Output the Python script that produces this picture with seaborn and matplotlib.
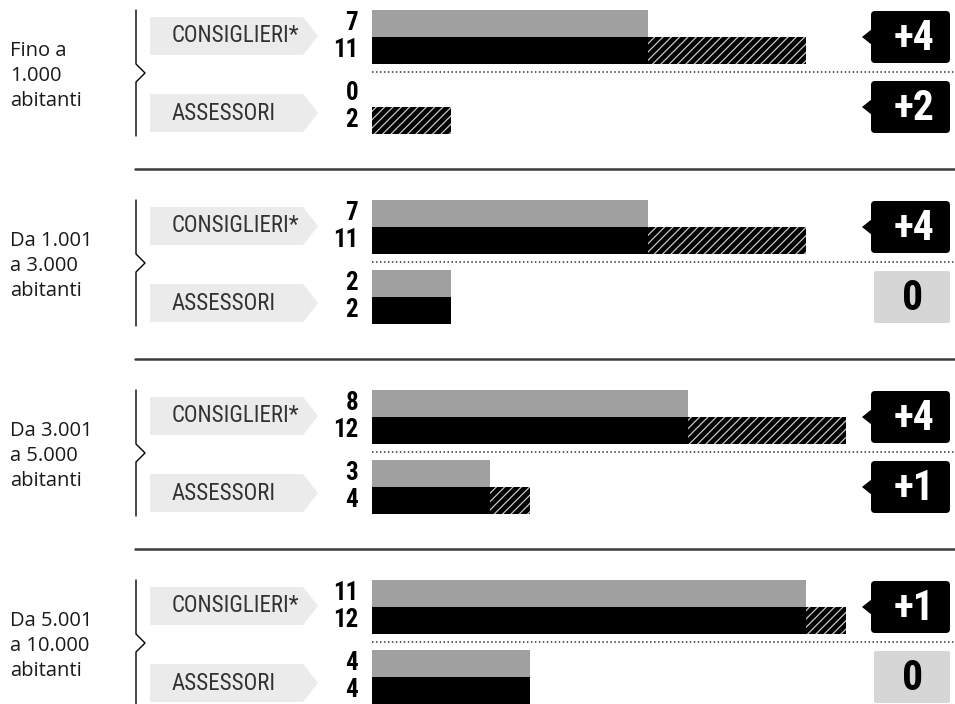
import numpy as np
import pandas as pd
import matplotlib
matplotlib.use("Agg")
import matplotlib.pyplot as plt
import seaborn as sns
from matplotlib.patches import FancyBboxPatch, Polygon
from matplotlib import font_manager as fm

# ---------------- data ----------------
groups = ["Fino a\n1.000\nabitanti", "Da 1.001\na 3.000\nabitanti",
          "Da 3.001\na 5.000\nabitanti", "Da 5.001\na 10.000\nabitanti"]
roles = ["CONSIGLIERI*", "ASSESSORI"]
cons_before = [7, 7, 8, 11]
cons_after = [11, 11, 12, 12]
ass_before = [0, 2, 3, 4]
ass_after = [2, 2, 4, 4]

sns.set_theme(style="white")


def pick(names):
    for n in names:
        try:
            fm.findfont(fm.FontProperties(family=n), fallback_to_default=False)
            return n
        except Exception:
            pass
    return "DejaVu Sans"


NARROW = pick(["Liberation Sans Narrow", "Roboto Condensed", "DejaVu Sans Condensed", "Liberation Sans"])
SANS = pick(["Open Sans", "Lato", "DejaVu Sans"])
plt.rcParams["font.family"] = [NARROW, "DejaVu Sans"]
plt.rcParams["hatch.linewidth"] = 0.9

W, H = 955, 704
PX0, PXU = 371.5, 39.5  # pixel of value 0, pixels per unit

fig = plt.figure(figsize=(W / 100, H / 100), dpi=100)
deco = fig.add_axes([0, 0, 1, 1])
deco.set_xlim(0, W)
deco.set_ylim(H, 0)
deco.axis("off")
ax = fig.add_axes([0, 0, 1, 1], sharey=deco)
ax.set_xlim(-PX0 / PXU, (W - PX0) / PXU)
ax.patch.set_alpha(0)
ax.axis("off")

rows = []
for g in range(len(groups)):
    rows.append((g, roles[0], cons_before[g], cons_after[g]))
    rows.append((g, roles[1], ass_before[g], ass_after[g]))
df = pd.DataFrame(rows, columns=["group", "role", "before", "after"])

GRAY = "#a0a0a0"
BH = 27
for _, r in df.iterrows():
    g = r["group"]
    base = 23 + 190 * g
    off = 0 if r["role"] == roles[0] else 70
    y_old = base + off
    y_new = y_old + 27
    b, a = r["before"], r["after"]
    if b > 0:
        ax.barh(y_old, b, height=BH, color=GRAY, lw=0)
        ax.barh(y_new, b, height=BH, color="black", lw=0)
    if a > b:
        ax.barh(y_new, a - b, left=b, height=BH, color="black",
                edgecolor="#c8c8c8", hatch="////", lw=0)
    # value labels
    deco.text(358, y_old, str(b), ha="right", va="center", fontsize=18,
              fontweight="bold", color="black")
    deco.text(358, y_new, str(a), ha="right", va="center", fontsize=18,
              fontweight="bold", color="black")
    # role label with light arrow background
    ty = base + (13 if off == 0 else 90)
    deco.add_patch(Polygon([(150, ty - 19), (303, ty - 19), (318, ty),
                            (303, ty + 19), (150, ty + 19)], closed=True,
                           facecolor="#ebebeb", edgecolor="none", zorder=0))
    deco.text(172, ty, r["role"], ha="left", va="center", fontsize=16.5,
              color="#333333")
    # badge
    d = a - b
    cy = base + (14 if off == 0 else 84)
    if d > 0:
        deco.add_patch(FancyBboxPatch((871, cy - 26), 79, 52,
                                      boxstyle="round,pad=0,rounding_size=4",
                                      facecolor="black", edgecolor="none"))
        deco.add_patch(Polygon([(872, cy - 8), (862, cy), (872, cy + 8)],
                               closed=True, facecolor="black", edgecolor="none"))
        deco.text(914, cy + 1, f"+{d}", ha="center", va="center", fontsize=30,
                  fontweight="bold", color="white")
    else:
        deco.add_patch(FancyBboxPatch((874, cy - 26), 76, 52,
                                      boxstyle="round,pad=0,rounding_size=2",
                                      facecolor="#d6d6d6", edgecolor="none"))
        deco.text(913, cy + 1, "0", ha="center", va="center", fontsize=30,
                  fontweight="bold", color="black")

for g, name in enumerate(groups):
    base = 23 + 190 * g
    # dotted divider
    deco.plot([372, W], [base + 49, base + 49], color="#333333", lw=1.1,
              linestyle=(0, (1, 1.6)))
    # separator
    if g < len(groups) - 1:
        deco.plot([135, W], [base + 146, base + 146], color="#3c3c3c", lw=1.8)
    # bracket
    c = base + 50
    deco.plot([136, 136, 145, 136, 136], [base - 13, c - 9, c, c + 9, base + 113],
              color="black", lw=1)
    # group label
    deco.text(10, c + 3, name, ha="left", va="center", fontsize=14.5,
              family=[SANS, "DejaVu Sans"], fontweight="medium",
              color="#1a1a1a", linespacing=1.32)

fig.savefig("out.png", dpi=100)
